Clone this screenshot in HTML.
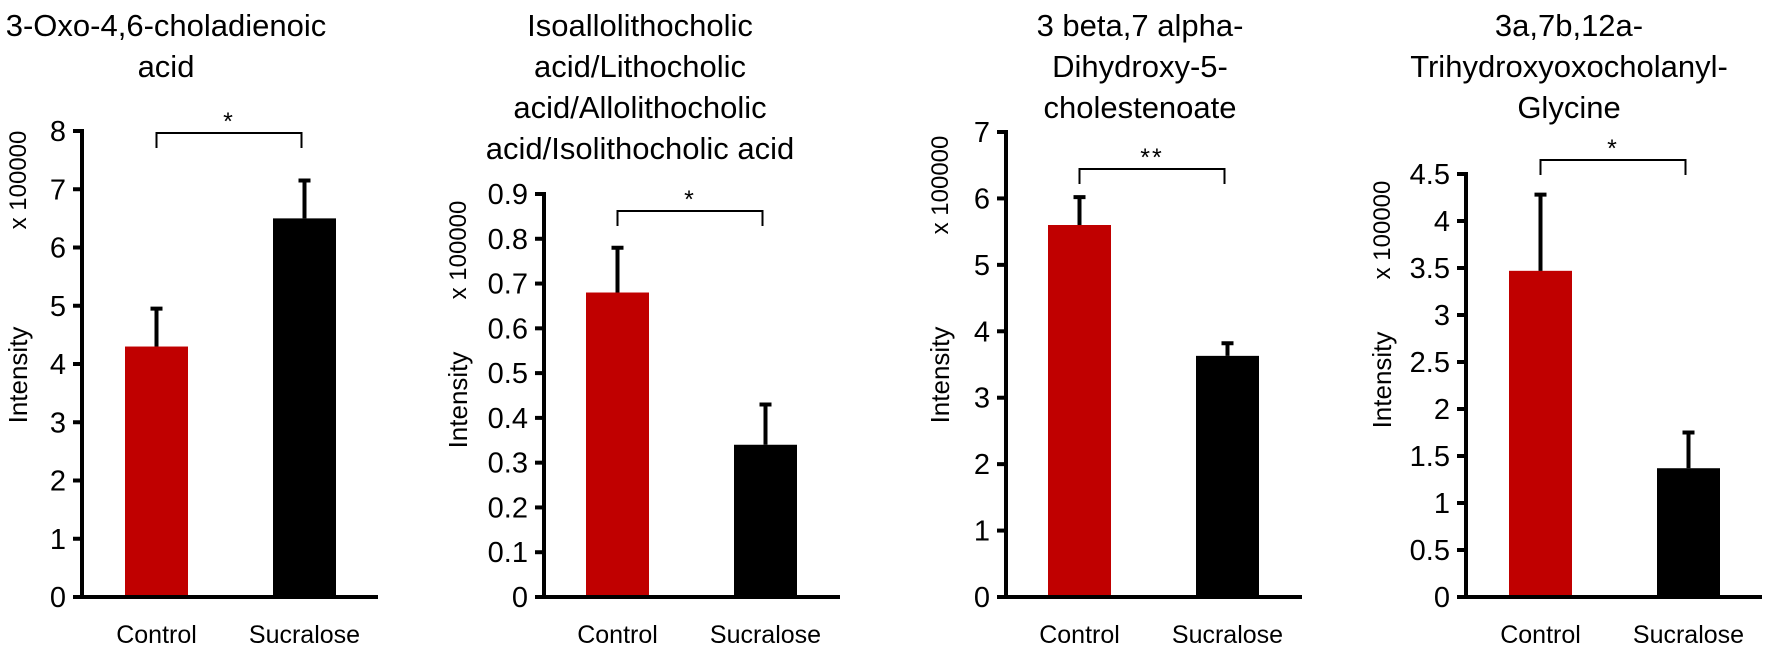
<!DOCTYPE html>
<html><head><meta charset="utf-8"><style>
html,body{margin:0;padding:0;background:#fff;}
svg{display:block;font-family:"Liberation Sans",Arial,sans-serif;}
</style></head><body>
<svg id="fig" width="1772" height="655" viewBox="0 0 1772 655" xmlns="http://www.w3.org/2000/svg"></svg>
<script>
const categories = ["Control", "Sucralose"];
const titles = [
  ["3-Oxo-4,6-choladienoic", "acid"],
  ["Isoallolithocholic", "acid/Lithocholic", "acid/Allolithocholic", "acid/Isolithocholic acid"],
  ["3 beta,7 alpha-", "Dihydroxy-5-", "cholestenoate"],
  ["3a,7b,12a-", "Trihydroxyoxocholanyl-", "Glycine"]
];
const means1 = [4.3, 6.5];
const errs1 = [0.65, 0.65];
const means2 = [0.68, 0.34];
const errs2 = [0.10, 0.09];
const means3 = [5.6, 3.63];
const errs3 = [0.42, 0.19];
const means4 = [3.47, 1.37];
const errs4 = [0.81, 0.38];
const ymax = [8, 0.9, 7, 4.5];
const ystep = [1, 0.1, 1, 0.5];
const stars = ["*", "*", "**", "*"];
const tickLabels1 = ["0","1","2","3","4","5","6","7","8"];
const tickLabels2 = ["0","0.1","0.2","0.3","0.4","0.5","0.6","0.7","0.8","0.9"];
const tickLabels3 = ["0","1","2","3","4","5","6","7"];
const tickLabels4 = ["0","0.5","1","1.5","2","2.5","3","3.5","4","4.5"];

const means = [means1, means2, means3, means4];
const errs = [errs1, errs2, errs3, errs4];
const tickLabels = [tickLabels1, tickLabels2, tickLabels3, tickLabels4];

// layout (not data)
const layout = [
  {ax: 82, top: 131, titleX: 166, labX: 18, xlabY: 180, intY: 375, off: 43, brY: 133},
  {ax: 544, top: 194, titleX: 640, labX: 458, xlabY: 250, intY: 400, off: 42, brY: 211},
  {ax: 1006, top: 132, titleX: 1140, labX: 940, xlabY: 185, intY: 375, off: 42, brY: 169},
  {ax: 1466, top: 174, titleX: 1569, labX: 1382, xlabY: 230, intY: 380, off: 43, brY: 160}
];
const zeroY = 597, axisLen = 296, barW = 63, barGap = 148;
const colors = ["#c00000", "#000000"];
const NS = "http://www.w3.org/2000/svg";
const svg = document.getElementById("fig");
function mk(tag, attrs, parent, text) {
  const e = document.createElementNS(NS, tag);
  for (const k in attrs) e.setAttribute(k, attrs[k]);
  if (text !== undefined) e.textContent = text;
  (parent || svg).appendChild(e);
  return e;
}

for (let p = 0; p < 4; p++) {
  const L = layout[p];
  const g = mk("g", {});
  
  
  const y = v => zeroY - (v / ymax[p]) * (zeroY - L.top);
  const barX = i => L.ax + L.off + i * barGap;

  titles[p].forEach((line, i) => {
    const t = mk("text", {x: L.titleX, y: 36 + i * 41, "text-anchor": "middle", "font-size": 31, fill: "#000"}, g, line);
    
    
  });

  const il = mk("text", {x: L.labX, y: L.intY, "text-anchor": "middle", "font-size": 26, transform: `rotate(-90 ${L.labX} ${L.intY})`, dy: 9}, g, "Intensity");
  
  
  const xl = mk("text", {x: L.labX, y: L.xlabY, "text-anchor": "middle", "font-size": 24, transform: `rotate(-90 ${L.labX} ${L.xlabY})`, dy: 8}, g, "x 100000");
  
  

  tickLabels[p].forEach((lab, i) => {
    const ty = y(i * ystep[p]);
    const tk = mk("line", {x1: L.ax - 9, x2: L.ax, y1: ty, y2: ty, stroke: "#000", "stroke-width": 4}, g);
    
    
    const tl = mk("text", {x: L.ax - 16, y: ty + 10, "text-anchor": "end", "font-size": 29}, g, lab);
    
    
  });

  categories.forEach((c, i) => {
    const bx = barX(i);
    const top = y(means[p][i]);
    const r = mk("rect", {x: bx, y: top, width: barW, height: zeroY - top, fill: colors[i]}, g);
    
    
    const cx = bx + barW / 2;
    const et = y(means[p][i] + errs[p][i]);
    const el = mk("path", {d: `M${cx},${top} V${et} M${cx - 6},${et} H${cx + 6}`, stroke: "#000", "stroke-width": 4, fill: "none"}, g);
    
    
    const cl = mk("text", {x: cx, y: 643, "text-anchor": "middle", "font-size": 25}, g, c);
    
    
  });

  const ya = mk("line", {x1: L.ax, x2: L.ax, y1: L.top - 2, y2: zeroY + 2, stroke: "#000", "stroke-width": 4}, g);
  
  
  const xa = mk("line", {x1: L.ax - 9, x2: L.ax + axisLen, y1: zeroY, y2: zeroY, stroke: "#000", "stroke-width": 4}, g);
  
  

  const by = L.brY;
  const x1 = barX(0) + barW / 2, x2 = barX(1) + barW / 2 - 3;
  const br = mk("path", {d: `M${x1},${by + 15} V${by} H${x2} V${by + 15}`, stroke: "#000", "stroke-width": 2, fill: "none"}, g);
  
  
  const st = mk("text", {x: (x1 + x2) / 2, y: by - 3, "text-anchor": "middle", "font-size": 25, "letter-spacing": 2}, g, stars[p]);
  
  
}
</script>
</body></html>
